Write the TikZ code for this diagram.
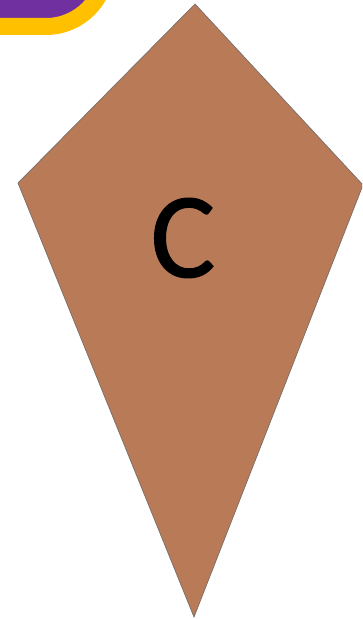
\documentclass[tikz,border=0pt]{standalone}
\usepackage{fontspec}
\setmainfont{Carlito}
\newfontfamily\letterfont[FakeBold=0.8]{Carlito}
\definecolor{kitefill}{RGB}{184,122,87}
\definecolor{kiteedge}{RGB}{120,110,105}
\definecolor{badgepurple}{RGB}{112,48,160}
\definecolor{badgeyellow}{RGB}{255,192,0}
\begin{document}
\begin{tikzpicture}[x=1pt,y=1pt,
  kite/.style={fill=kitefill,draw=kiteedge,line width=0.7pt,line join=miter},
  badge/.style={draw=badgeyellow,fill=badgepurple,line width=17pt,rounded corners=60pt},
  letter/.style={font=\letterfont\fontsize{122}{122}\selectfont,inner sep=0pt}]
\useasboundingbox (0,0) rectangle (362,619);
\clip (0,0) rectangle (362,619);
\draw[badge] (-120,592.5) rectangle (106,760);
\coordinate (T) at (195,615);
\coordinate (L) at (18,436);
\coordinate (R) at (363,434);
\coordinate (B) at (194,2);
\draw[kite] (T) -- (R) -- (B) -- (L) -- cycle;
\node[letter,text=black] (C) at (183,381) {C};
\end{tikzpicture}
\end{document}
